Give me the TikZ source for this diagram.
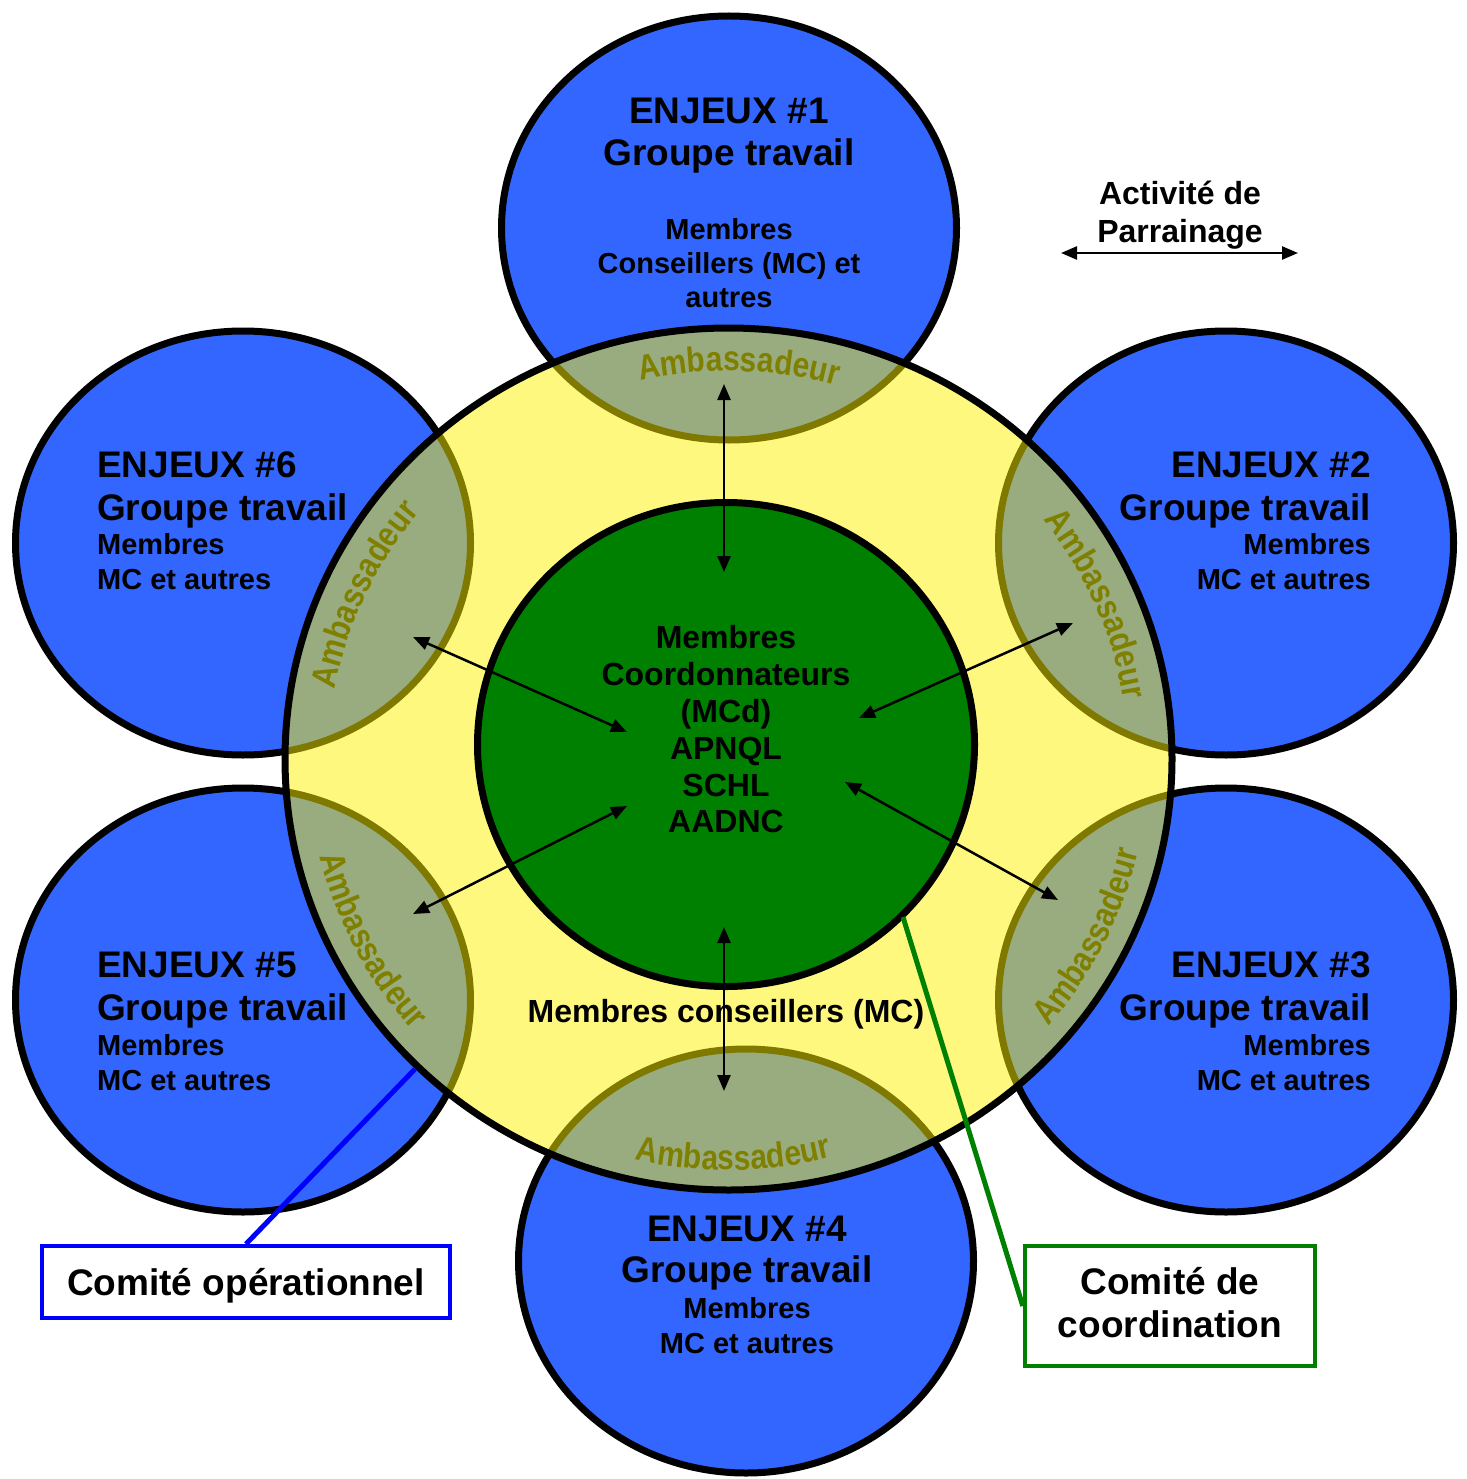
\documentclass[tikz,border=0pt]{standalone}
\usepackage{fontspec}
\setmainfont{Liberation Sans}
\newfontfamily\ambfont{Liberation Sans}[FakeStretch=0.86]
\usetikzlibrary{shapes.geometric,arrows.meta,decorations.text}
\definecolor{bluec}{RGB}{51,102,255}
\definecolor{greenc}{RGB}{0,128,0}
\definecolor{ambc}{RGB}{128,128,0}
\definecolor{linblue}{RGB}{0,0,255}
\begin{document}
\begin{tikzpicture}[x=1pt,y=1pt,
  enjeu/.style={ellipse, draw=black, line width=7pt, fill=bluec, minimum width=455pt, minimum height=424pt, inner sep=0pt},
  txt/.style={inner sep=0pt, font=\fontsize{29}{34}\selectfont\bfseries},
  dbl/.style={{Triangle[length=16pt,width=13pt]}-{Triangle[length=16pt,width=13pt]}, line width=2.5pt, black},
  amb/.style={decorate, decoration={text along path, text color=ambc, text align=center,
     text={|\ambfont\fontsize{35}{35}\selectfont\bfseries|Ambassadeur}}},
  callout/.style={line width=5pt},
]
\useasboundingbox (0,0) rectangle (1466,-1479);

% groupes de travail
\node[enjeu] (c1) at (729,-228) {};
\node[enjeu] (c2) at (1226,-543) {};
\node[enjeu] (c3) at (1226,-1000) {};
\node[enjeu] (c4) at (746,-1261) {};
\node[enjeu] (c5) at (243,-1000) {};
\node[enjeu] (c6) at (243,-543) {};

% anneau jaune (membres conseillers)
\node[ellipse, draw=black, line width=7pt, fill=yellow, fill opacity=0.5, draw opacity=1,
      minimum width=887pt, minimum height=862pt, inner sep=0pt] (yel) at (728.5,-759) {};

% cercle vert
\node[ellipse, draw=black, line width=7pt, fill=greenc,
      minimum width=497pt, minimum height=484pt, inner sep=0pt] (mcd) at (726,-744.5) {};

% Ambassadeur
\coordinate (yc) at (728.5,-759);
\path[amb] ([shift={(108.5:398 and 388)}]yc) arc[start angle=108.5, end angle=68.5, x radius=398, y radius=388];
\path[amb] ([shift={(43.4:400 and 388)}]yc) arc[start angle=43.4, end angle=3.4, x radius=400, y radius=388];
\path[amb] ([shift={(175.1:400 and 388)}]yc) arc[start angle=175.1, end angle=135.1, x radius=400, y radius=388];
\path[amb] ([shift={(-109.3:420 and 411)}]yc) arc[start angle=-109.3, end angle=-69.3, x radius=420, y radius=411];
\path[amb] ([shift={(-46.8:421 and 411)}]yc) arc[start angle=-46.8, end angle=-6.8, x radius=421, y radius=411];
\path[amb] ([shift={(187.5:421 and 411)}]yc) arc[start angle=187.5, end angle=227.5, x radius=421, y radius=411];

% textes des groupes
\node[txt, align=center, anchor=north] (t1) at (729,-97.5)
  {{\fontsize{37}{37}\selectfont ENJEUX \#1}\\[8pt]{\fontsize{37}{37}\selectfont Groupe travail}\\[40pt]Membres\\Conseillers (MC) et\\autres};
\node[txt, align=right, anchor=north east] (t2) at (1371,-451.5)
  {{\fontsize{37}{37}\selectfont ENJEUX \#2}\\[9pt]{\fontsize{37}{37}\selectfont Groupe travail}\\Membres\\[1pt]MC et autres};
\node[txt, align=right, anchor=north east] (t3) at (1371,-951.5)
  {{\fontsize{37}{37}\selectfont ENJEUX \#3}\\[9pt]{\fontsize{37}{37}\selectfont Groupe travail}\\[1pt]Membres\\[1pt]MC et autres};
\node[txt, align=center, anchor=north] (t4) at (747,-1215.5)
  {{\fontsize{37}{37}\selectfont ENJEUX \#4}\\[7pt]{\fontsize{37}{37}\selectfont Groupe travail}\\[2pt]Membres\\[1pt]MC et autres};
\node[txt, align=left, anchor=north west] (t5) at (97,-951.5)
  {{\fontsize{37}{37}\selectfont ENJEUX \#5}\\[9pt]{\fontsize{37}{37}\selectfont Groupe travail}\\[1pt]Membres\\[1pt]MC et autres};
\node[txt, align=left, anchor=north west] (t6) at (97,-451.5)
  {{\fontsize{37}{37}\selectfont ENJEUX \#6}\\[9pt]{\fontsize{37}{37}\selectfont Groupe travail}\\Membres\\[1pt]MC et autres};

% texte central
\node[inner sep=0pt, align=center, anchor=north, font=\fontsize{32}{36.8}\selectfont\bfseries] (ctext) at (726,-625.5)
  {Membres\\Coordonnateurs\\(MCd)\\APNQL\\SCHL\\AADNC};
\node[inner sep=0pt, anchor=base, font=\fontsize{32}{36}\selectfont\bfseries] (mcl) at (726,-1022)
  {Membres conseillers (MC)};

% légende
\node[inner sep=0pt, align=center, anchor=north, font=\fontsize{32}{38}\selectfont\bfseries] (leg) at (1180,-181)
  {Activité de\\Parrainage};
\coordinate (la) at (1061,-253);
\coordinate (lb) at (1298,-253);
\draw[dbl] (la) -- (lb);

% flèches
\coordinate (a1o) at (724,-384);  \coordinate (a1i) at (724,-572);
\coordinate (a4i) at (724,-927);  \coordinate (a4o) at (724,-1091);
\coordinate (a6o) at (413,-637);  \coordinate (a6i) at (627,-732);
\coordinate (a2o) at (1073,-623); \coordinate (a2i) at (859,-718);
\coordinate (a5o) at (413,-914);  \coordinate (a5i) at (627,-806);
\coordinate (a3i) at (845,-782);  \coordinate (a3o) at (1058,-900);
\draw[dbl] (a1o) -- (a1i);
\draw[dbl] (a4i) -- (a4o);
\draw[dbl] (a6o) -- (a6i);
\draw[dbl] (a2o) -- (a2i);
\draw[dbl] (a5o) -- (a5i);
\draw[dbl] (a3i) -- (a3o);

% comités
\node[draw=linblue, line width=4pt, fill=white, minimum width=408pt, minimum height=72pt, inner sep=0pt,
      text height=26.5pt, text depth=0pt, font=\fontsize{37}{43}\selectfont\bfseries] (obox) at (246,-1282)
  {Comité opérationnel};
\node[draw=greenc, line width=4.5pt, fill=white, minimum width=290pt, minimum height=120pt, inner sep=0pt,
      align=center, text depth=8pt, font=\fontsize{37}{43}\selectfont\bfseries] (cbox) at (1170,-1306)
  {Comité de\\coordination};
\coordinate (bend) at (415,-1069);
\coordinate (gend) at (903,-917);
\draw[callout, linblue] (obox.north) -- (bend);
\draw[callout, greenc] (gend) -- (cbox.west);
\end{tikzpicture}
\end{document}
